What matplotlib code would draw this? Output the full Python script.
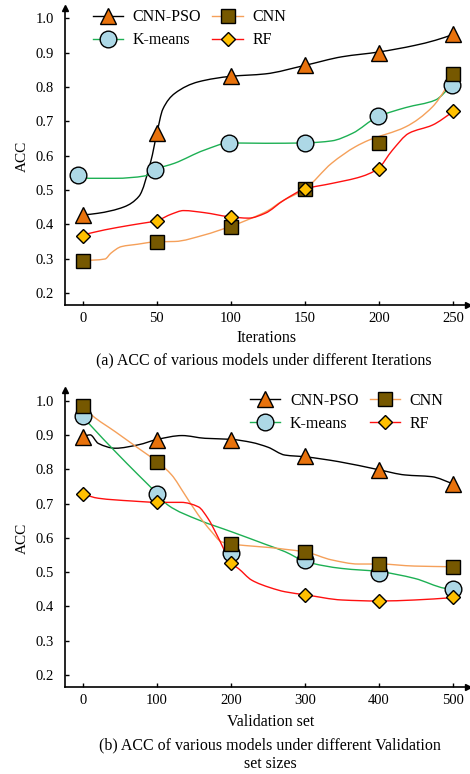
import numpy as np
import matplotlib
matplotlib.use('Agg')
import matplotlib.pyplot as plt
from matplotlib.path import Path
from matplotlib.patches import PathPatch
from matplotlib.lines import Line2D

plt.rcParams['font.family'] = ['Liberation Serif', 'DejaVu Serif']

models = ['CNN-PSO', 'K-means', 'CNN', 'RF']

# ---- (a) ACC vs iterations: marker values ----
iter_ticks = [0, 50, 100, 150, 200, 250]
iter_x = [0, 50, 100, 150, 200, 250]
iter_x_kmeans = [-3, 49, 99, 150, 199, 249]
pso_iter = [0.427, 0.665, 0.831, 0.863, 0.900, 0.953]
kmeans_iter = [0.544, 0.559, 0.638, 0.637, 0.714, 0.806]
cnn_iter = [0.294, 0.349, 0.393, 0.503, 0.637, 0.838]
rf_iter = [0.367, 0.411, 0.422, 0.503, 0.562, 0.729]

# smoothed curve traces
pso_iter_cx = [0, 10, 28, 38, 46, 50, 54, 62, 78, 100, 123, 150, 175, 200, 224, 238, 250]
pso_iter_cy = [0.427, 0.432, 0.451, 0.482, 0.585, 0.665, 0.735, 0.781, 0.815, 0.831,
               0.838, 0.863, 0.888, 0.902, 0.921, 0.936, 0.953]
kmeans_iter_cx = [-3, 4, 22, 42, 49, 62, 82, 99, 123, 150, 168, 182, 199, 218, 238, 249]
kmeans_iter_cy = [0.544, 0.534, 0.534, 0.541, 0.56, 0.578, 0.616, 0.637, 0.636, 0.637,
                  0.643, 0.665, 0.713, 0.74, 0.762, 0.805]
cnn_iter_cx = [0, 15, 19, 26, 37, 49, 62, 82, 99, 114, 125, 134, 150, 168, 184, 193,
               218, 236, 245, 250]
cnn_iter_cy = [0.294, 0.299, 0.316, 0.335, 0.342, 0.349, 0.35, 0.369, 0.393, 0.418,
               0.44, 0.466, 0.503, 0.578, 0.626, 0.645, 0.684, 0.742, 0.796, 0.837]
rf_iter_cx = [0, 15, 33, 50, 60, 68, 82, 99, 112, 123, 136, 150, 168, 188, 199, 209,
              220, 236, 250]
rf_iter_cy = [0.369, 0.384, 0.398, 0.411, 0.43, 0.44, 0.434, 0.422, 0.418, 0.432,
              0.471, 0.503, 0.519, 0.539, 0.561, 0.616, 0.665, 0.689, 0.728]

# ---- (b) ACC vs validation set size: marker values ----
val_ticks = [0, 100, 200, 300, 400, 500]
val_x = [0, 100, 200, 300, 400, 500]
pso_val = [0.895, 0.887, 0.887, 0.838, 0.799, 0.758]
kmeans_val = [0.955, 0.728, 0.556, 0.536, 0.499, 0.450]
cnn_val = [0.986, 0.821, 0.583, 0.559, 0.525, 0.516]
rf_val = [0.727, 0.704, 0.528, 0.435, 0.416, 0.427]

pso_val_cx = [0, 10, 21, 44, 75, 101, 134, 165, 200, 228, 250, 273, 300, 345, 400,
              435, 471, 500]
pso_val_cy = [0.896, 0.901, 0.876, 0.862, 0.872, 0.888, 0.899, 0.891, 0.888, 0.879,
              0.865, 0.842, 0.837, 0.823, 0.799, 0.784, 0.779, 0.758]
kmeans_val_cx = [0, 10, 44, 75, 101, 115, 156, 201, 246, 273, 301, 350, 400, 448, 489, 500]
kmeans_val_cy = [0.954, 0.93, 0.852, 0.784, 0.728, 0.696, 0.653, 0.618, 0.582, 0.56,
                 0.531, 0.511, 0.502, 0.482, 0.453, 0.45]
cnn_val_cx = [0, 12, 44, 75, 102, 120, 138, 156, 174, 187, 199, 219, 253, 273, 301,
              336, 372, 400, 448, 500]
cnn_val_cy = [0.986, 0.959, 0.91, 0.862, 0.82, 0.784, 0.726, 0.667, 0.618, 0.589,
              0.583, 0.578, 0.572, 0.567, 0.559, 0.536, 0.524, 0.524, 0.518, 0.516]
rf_val_cx = [0, 21, 66, 102, 133, 156, 169, 181, 192, 199, 210, 228, 253, 273, 301,
             350, 399, 448, 500]
rf_val_cy = [0.728, 0.716, 0.708, 0.704, 0.704, 0.691, 0.657, 0.609, 0.56, 0.528,
             0.511, 0.477, 0.455, 0.443, 0.434, 0.419, 0.416, 0.419, 0.426]

# styles
line_colors = ['black', '#1DB054', '#F5A05A', '#FF1010']
face_colors = ['#E8720C', '#ADD8E6', '#765800', '#FFC000']
markers = ['^', 'o', 's', 'D']
msizes = [12, 12, 10.5, 7.5]


def smooth_path(xs, ys):
    # monotone cubic (pchip-like) bezier path through the traced points
    xs = np.asarray(xs, float)
    ys = np.asarray(ys, float)
    h = np.diff(xs)
    d = np.diff(ys) / h
    m = np.zeros_like(ys)
    m[0], m[-1] = d[0], d[-1]
    for i in range(1, len(xs) - 1):
        if d[i - 1] * d[i] <= 0:
            m[i] = 0.0
        else:
            w1 = 2 * h[i] + h[i - 1]
            w2 = h[i] + 2 * h[i - 1]
            m[i] = (w1 + w2) / (w1 / d[i - 1] + w2 / d[i])
    verts = [(xs[0], ys[0])]
    codes = [Path.MOVETO]
    for i in range(len(h)):
        verts += [(xs[i] + h[i] / 3, ys[i] + m[i] * h[i] / 3),
                  (xs[i + 1] - h[i] / 3, ys[i + 1] - m[i + 1] * h[i] / 3),
                  (xs[i + 1], ys[i + 1])]
        codes += [Path.CURVE4] * 3
    return Path(verts, codes)


def draw_panel(ax, curves, points, xlim, ticks, xlabel):
    for i, (cx, cy) in enumerate(curves):
        ax.add_patch(PathPatch(smooth_path(cx, cy), fill=False, lw=1.0,
                               edgecolor=line_colors[i], zorder=2))
    for i, (px, py) in enumerate(points):
        ax.plot(px, py, linestyle='none', marker=markers[i], ms=msizes[i],
                mfc=face_colors[i], mec='black', mew=1.0, zorder=3 + i)

    ax.set_xlim(*xlim)
    ax.set_ylim(0.165, 1.032)
    ax.set_xticks(ticks)
    ax.set_yticks(np.arange(0.2, 1.01, 0.1))
    ax.set_yticklabels(['%.1f' % v for v in np.arange(0.2, 1.01, 0.1)])
    ax.spines['top'].set_visible(False)
    ax.spines['right'].set_visible(False)
    ax.spines['left'].set_linewidth(1.2)
    ax.spines['bottom'].set_linewidth(1.2)
    ax.tick_params(direction='in', length=3, width=1, labelsize=10.5, pad=5)
    ax.tick_params(axis='y', pad=8)
    # axis arrows
    ax.plot(1, 0, '>', color='black', ms=4, transform=ax.transAxes, clip_on=False)
    ax.plot(0, 1, '^', color='black', ms=4, transform=ax.transAxes, clip_on=False)

    ax.set_ylabel('ACC', fontsize=11)
    ax.yaxis.set_label_coords(-0.09, 0.5)
    ax.set_xlabel(xlabel, fontsize=11.5)


def legend_handles():
    hs = []
    for i, name in enumerate(models):
        hs.append(Line2D([0], [0], color=line_colors[i], lw=1.0, marker=markers[i],
                         ms=msizes[i], mfc=face_colors[i], mec='black', mew=1.0,
                         label=name))
    return hs


fig = plt.figure(figsize=(4.7, 7.74), dpi=100)

ax1 = fig.add_axes([65 / 470, 1 - 305 / 774, 403 / 470, 297 / 774])
draw_panel(ax1,
           [(pso_iter_cx, pso_iter_cy), (kmeans_iter_cx, kmeans_iter_cy),
            (cnn_iter_cx, cnn_iter_cy), (rf_iter_cx, rf_iter_cy)],
           [(iter_x, pso_iter), (iter_x_kmeans, kmeans_iter),
            (iter_x, cnn_iter), (iter_x, rf_iter)],
           (-12, 260), iter_ticks, 'Iterations')
ax1.xaxis.set_label_coords(0.5, -0.085)
ax1.set_ylim(0.165, 1.03)
ax1.legend(handles=legend_handles(), ncol=2, loc='upper left',
           bbox_to_anchor=(0.069, 0.995), frameon=False, fontsize=11.5,
           handlelength=1.9, handletextpad=0.6, columnspacing=0.7,
           labelspacing=0.42, borderpad=0, borderaxespad=0)

ax2 = fig.add_axes([65 / 470, 1 - 687 / 774, 403 / 470, 297 / 774])
draw_panel(ax2,
           [(pso_val_cx, pso_val_cy), (kmeans_val_cx, kmeans_val_cy),
            (cnn_val_cx, cnn_val_cy), (rf_val_cx, rf_val_cy)],
           [(val_x, pso_val), (val_x, kmeans_val),
            (val_x, cnn_val), (val_x, rf_val)],
           (-24, 520), val_ticks, 'Validation set')
ax2.xaxis.set_label_coords(0.511, -0.092)
ax2.legend(handles=legend_handles(), ncol=2, loc='upper left',
           bbox_to_anchor=(0.459, 0.99), frameon=False, fontsize=11.5,
           handlelength=1.9, handletextpad=0.6, columnspacing=0.7,
           labelspacing=0.42, borderpad=0, borderaxespad=0)

fig.text(264 / 470, 1 - 360 / 774, '(a) ACC of various models under different Iterations',
         ha='center', va='center', fontsize=11.5)
fig.text(270 / 470, 1 - 755 / 774,
         '(b) ACC of various models under different Validation\nset sizes',
         ha='center', va='center', fontsize=11.5, linespacing=1.2)

fig.savefig('out.png', dpi=100)
